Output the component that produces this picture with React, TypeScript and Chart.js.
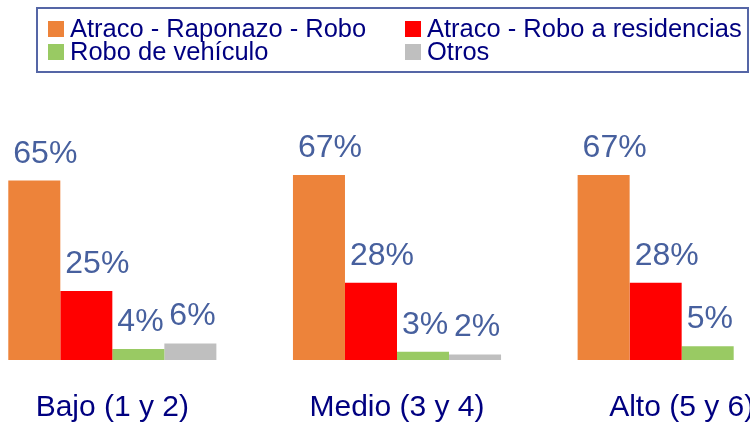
import React, { useEffect, useRef } from "react";
import { Chart, registerables } from "chart.js";

Chart.register(...registerables);

const categories = ["Bajo (1 y 2)", "Medio (3 y 4)", "Alto (5 y 6)"];
const seriesNames = ["Atraco - Raponazo - Robo", "Atraco - Robo a residencias", "Robo de vehículo", "Otros"];
const atracoRaponazo = [65, 67, 67];
const atracoResidencias = [25, 28, 28];
const roboVehiculo = [4, 3, 5];
const otros: (number | null)[] = [6, 2, null];
const seriesColors = ["#ED833A", "#FF0000", "#99CA63", "#BFBFBF"];

const FONT = "'Liberation Sans', Arial, Helvetica, sans-serif";
const SHIFT = 30; // canvas is shifted left by this many px inside the cropped frame

const labelPlugin = {
  id: "valueLabels",
  afterDatasetsDraw(chart: any) {
    const ctx = chart.ctx;
    ctx.save();
    ctx.font = `32px ${FONT}`;
    ctx.fillStyle = "#47609E";
    ctx.textAlign = "left";
    ctx.textBaseline = "alphabetic";
    chart.data.datasets.forEach((ds: any, di: number) => {
      const meta = chart.getDatasetMeta(di);
      meta.data.forEach((el: any, i: number) => {
        const v = ds.data[i];
        if (v === null || v === undefined) return;
        ctx.fillText(`${v}%`, el.x - el.width / 2 + 5, el.y - 18);
      });
    });
    ctx.restore();
  },
};

const legendPlugin = {
  id: "boxLegend",
  afterDraw(chart: any) {
    const ctx = chart.ctx;
    ctx.save();
    const left = 37 + SHIFT;
    const right = 748 + SHIFT;
    ctx.strokeStyle = "#5566A6";
    ctx.lineWidth = 2;
    ctx.strokeRect(left, 8, right - left, 64);
    ctx.font = `25.5px ${FONT}`;
    ctx.textBaseline = "alphabetic";
    ctx.textAlign = "left";
    const cols = [48 + SHIFT, 405 + SHIFT];
    const rows = [37, 60];
    chart.data.datasets.forEach((ds: any, di: number) => {
      const cx = cols[di % 2];
      const ry = rows[Math.floor(di / 2)];
      ctx.fillStyle = ds.backgroundColor;
      ctx.fillRect(cx, ry - 16, 16, 16);
      ctx.fillStyle = "#000080";
      ctx.fillText(ds.label, cx + 22, ry);
    });
    ctx.restore();
  },
};

export default function App() {
  const ref = useRef<HTMLCanvasElement | null>(null);
  useEffect(() => {
    if (!ref.current) return;
    const seriesData = [atracoRaponazo, atracoResidencias, roboVehiculo, otros];
    const chart = new Chart(ref.current, {
      type: "bar",
      data: {
        labels: categories,
        datasets: seriesNames.map((name, i) => ({
          label: name,
          data: seriesData[i],
          backgroundColor: seriesColors[i],
          borderWidth: 0,
          categoryPercentage: 0.731,
          barPercentage: 1,
        })),
      },
      options: {
        animation: false,
        responsive: false,
        devicePixelRatio: 1,
        layout: { padding: { top: 84, left: 0, right: 0, bottom: 0 } },
        plugins: { legend: { display: false }, tooltip: { enabled: false } },
        scales: {
          x: {
            grid: { display: false, drawTicks: false },
            border: { display: false },
            ticks: {
              color: "#000080",
              font: { family: FONT, size: 30 },
              padding: 30,
              maxRotation: 0,
              autoSkip: false,
            },
          },
          y: {
            display: false,
            min: 0,
            max: 100,
          },
        },
      },
      plugins: [labelPlugin, legendPlugin],
    });
    return () => chart.destroy();
  }, []);
  return (
    <div
      style={{
        position: "fixed",
        left: 0,
        top: 0,
        width: 750,
        height: 423,
        overflow: "hidden",
        background: "#fff",
      }}
    >
      <canvas
        ref={ref}
        width={854}
        height={456}
        style={{ position: "absolute", left: -SHIFT, top: 0, width: 854, height: 456 }}
      />
    </div>
  );
}
